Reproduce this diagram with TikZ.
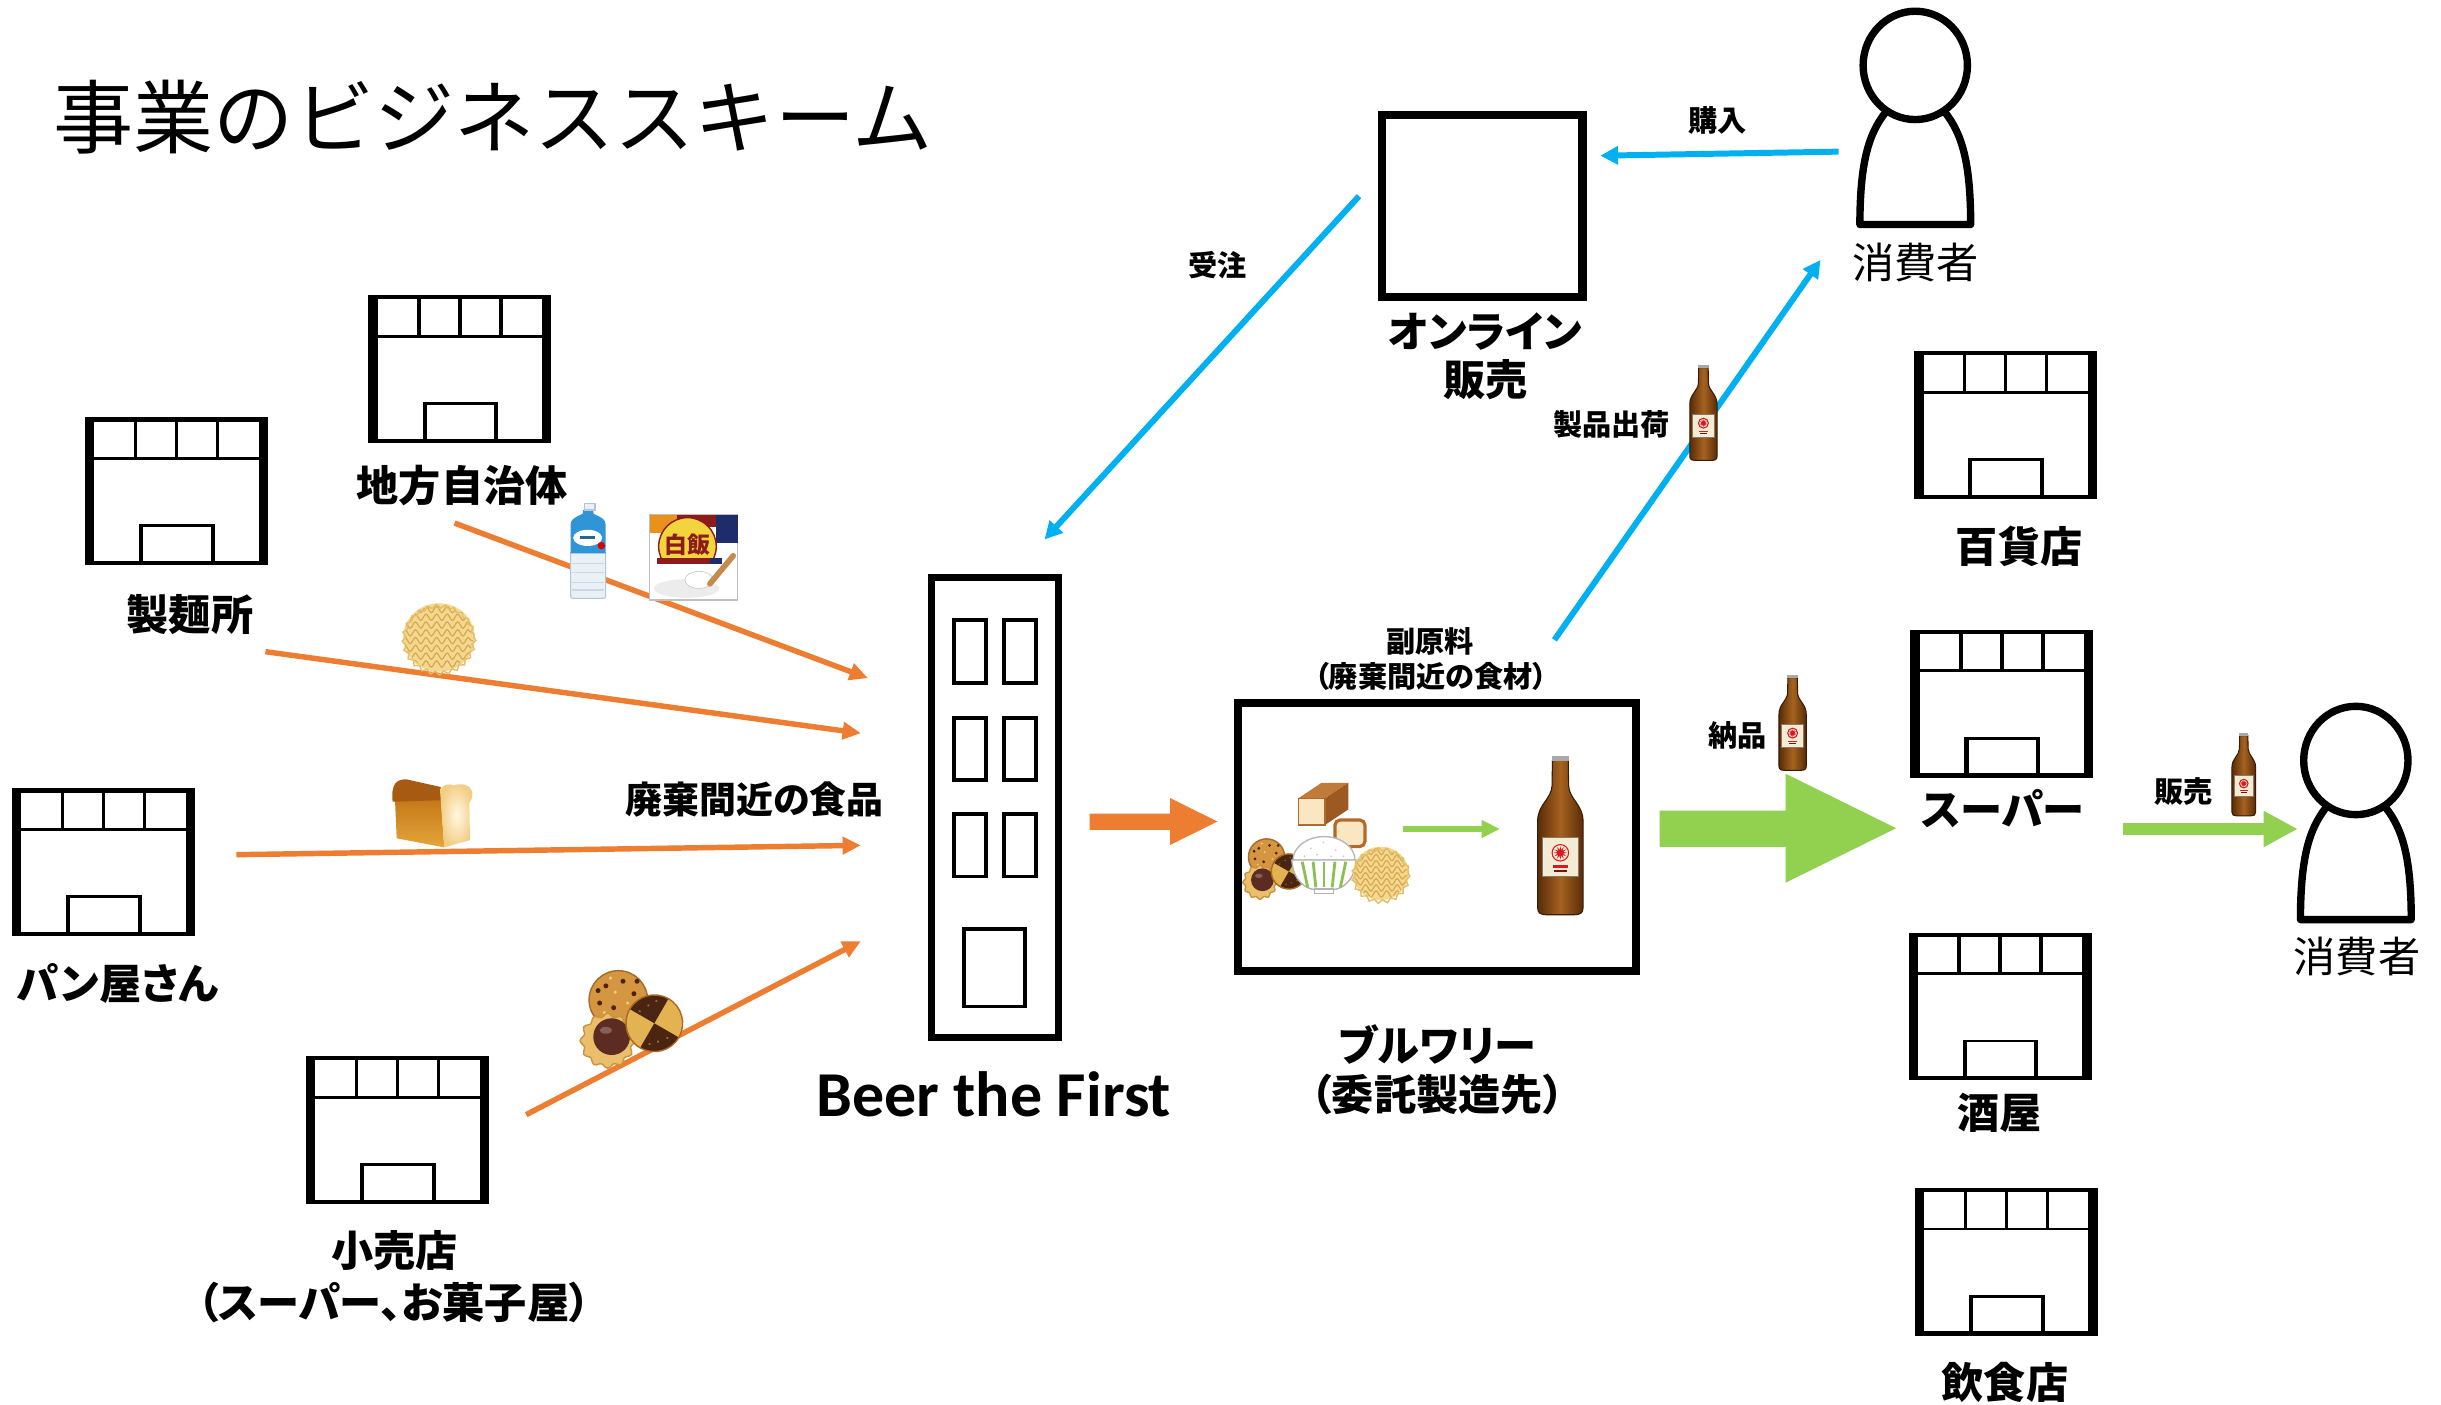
\documentclass[tikz,border=0pt]{standalone}
\usepackage{fontspec}
\newfontfamily\jpfont{Noto Sans CJK JP}[RawFeature=+palt]
\newfontfamily\jptitle{Noto Sans CJK JP}
\newfontfamily\latinbold{Carlito}
\usetikzlibrary{arrows.meta,decorations.pathmorphing}

\definecolor{flowOrange}{HTML}{ED7D31}
\definecolor{flowBlue}{HTML}{00B0F0}
\definecolor{flowGreen}{HTML}{92D050}
\definecolor{bottleDark}{HTML}{5A2C08}
\definecolor{bottleLight}{HTML}{A5621F}
\definecolor{bottleEdge}{HTML}{3A1B04}
\definecolor{capGray}{HTML}{A9A9A9}
\definecolor{labelCream}{HTML}{F3ECD4}
\definecolor{starRed}{HTML}{D71920}
\definecolor{noodleFill}{HTML}{F4D892}
\definecolor{noodleLine}{HTML}{D8A94C}
\definecolor{noodleEdge}{HTML}{E5BD66}
\definecolor{cookieA}{HTML}{D49640}
\definecolor{cookieAEdge}{HTML}{A86A24}
\definecolor{cookieB}{HTML}{EBBE6C}
\definecolor{cookieBEdge}{HTML}{C89440}
\definecolor{cookieC}{HTML}{E3B352}
\definecolor{chocoDark}{HTML}{4A2512}
\definecolor{choco}{HTML}{5C2C22}
\definecolor{chip}{HTML}{4B2410}
\definecolor{crumb}{HTML}{F3CF7E}
\definecolor{loafTop}{HTML}{A65A12}
\definecolor{loafSideA}{HTML}{C27516}
\definecolor{loafSideB}{HTML}{E4A63A}
\definecolor{loafCut}{HTML}{F3CD85}
\definecolor{loafCutHi}{HTML}{FFF8E2}
\definecolor{waterBlue}{HTML}{2F95D6}
\definecolor{waterBody}{HTML}{E9F0F6}
\definecolor{waterEdge}{HTML}{B5C6D6}
\definecolor{packOrange}{HTML}{E8921C}
\definecolor{packRed}{HTML}{8E1B1B}
\definecolor{packNavy}{HTML}{1E2C6B}
\definecolor{packYellow}{HTML}{F2D43C}
\definecolor{spoonBrown}{HTML}{C48B4C}
\definecolor{bowlGreen}{HTML}{8CC152}
\definecolor{crustBrown}{HTML}{B06A2C}
\definecolor{loafBoxTop}{HTML}{C07A3A}
\definecolor{loafBoxSide}{HTML}{9C5A22}
\definecolor{loafBoxFront}{HTML}{FBE6C2}

\tikzset{
  titleF/.style={inner sep=0pt, font=\jptitle\fontsize{22.8}{27}\selectfont},
  lblB/.style={inner sep=0pt, font=\jpfont\bfseries\fontsize{12}{14}\selectfont},
  lblR/.style={inner sep=0pt, font=\jpfont\fontsize{12}{14}\selectfont},
  midB/.style={inner sep=0pt, font=\jpfont\bfseries\fontsize{10.5}{12.5}\selectfont},
  smB/.style={inner sep=0pt, font=\jpfont\bfseries\fontsize{8.3}{10}\selectfont},
  beerlbl/.style={inner sep=0pt, font=\latinbold\bfseries\fontsize{18.2}{22}\selectfont},
  supply/.style={flowOrange, line width=1.55pt, -{Triangle[length=5.2pt,width=4.8pt]}},
  order/.style={flowBlue, line width=1.7pt, -{Triangle[length=5pt,width=5pt]}},
  % shop front: thick side walls, thin roof and floor, four windows and a door
  pics/shop/.style={code={
    \fill[black] (0,0) rectangle (117.5,95);
    \fill[white] (6,2.8) rectangle (111.5,92.2);
    \fill[black] (6,25.5) rectangle (111.5,27.3);
    \foreach \cx in {32.4,58.75,85.1}
      \fill[black] ({\cx-1.1},2.8) rectangle ({\cx+1.1},26);
    \fill[black] (34.7,68.8) rectangle (83.4,93);
    \fill[white] (37.3,70.6) rectangle (80.8,92.2);
  }},
  % person figure, origin at the centre of the head
  pics/person/.style={code={
    \draw[line width=2.1pt, fill=white, line join=round]
      (-19,30) .. controls (-30,44) and (-35.5,62) .. (-35.6,102.2)
      -- (35.6,102.2) .. controls (35.5,62) and (30,44) .. (19,30);
    \draw[line width=2.1pt, fill=white] (0,0) ellipse [x radius=33.5, y radius=34.8];
  }},
  % brown beer bottle, origin at the top centre of the cap
  pics/beerbottle/.style={code={
    \shade[left color=bottleDark, right color=bottleDark, middle color=bottleLight,
           draw=bottleEdge, line width=0.3pt]
      (-5.1,2.8) -- (-5.3,19) .. controls (-5.8,28) and (-14.6,31) .. (-14.6,42)
      -- (-14.6,97.5) .. controls (-14.6,101) and (-12.5,102) .. (-9,102)
      -- (9,102) .. controls (12.5,102) and (14.6,101) .. (14.6,97.5)
      -- (14.6,42) .. controls (14.6,31) and (5.8,28) .. (5.3,19) -- (5.1,2.8) -- cycle;
    \fill[capGray] (-5.6,0) rectangle (5.6,3.2);
    \fill[labelCream, draw=bottleEdge!60, line width=0.25pt] (-11.8,52.5) rectangle (11.5,77.5);
    \draw[starRed, line width=0.3pt] (0,62.2) circle [radius=5.3];
    \begin{scope}[shift={(0,62.2)}]
      \fill[starRed] (0:4.4) \foreach \a in {15,45,...,345} { -- (\a:1.9) -- (\a+15:4.4) } -- cycle;
    \end{scope}
    \fill[starRed] (-5,70.3) rectangle (5,71.8);
    \fill[starRed!60!black] (-4,73) rectangle (4,74.3);
  }},
  % round block of dried noodles
  pics/noodle/.style={code={
    \fill[noodleFill] (0,0) ellipse [x radius=23, y radius=22];
    \begin{scope}
      \clip (0,0) ellipse [x radius=22, y radius=21];
      \foreach \yy in {-18,-13,...,18}
        \draw[noodleLine, line width=0.35pt, decorate,
              decoration={snake, amplitude=0.9pt, segment length=3pt}] (-24,\yy) -- (24,\yy);
    \end{scope}
    \draw[noodleEdge, line width=0.4pt, decorate,
          decoration={snake, amplitude=0.5pt, segment length=2.5pt}]
      (0,0) ellipse [x radius=22.5, y radius=21.5];
  }},
  % three cookies, origin at the centre of the chocolate chip cookie
  pics/cookies/.style={code={
    \fill[cookieA, draw=cookieAEdge, line width=0.4pt] (0,0) circle [radius=18.8];
    \foreach \px/\py in {-8/-9,3/-12,10/-4,-12/2,-3/5,8/8,-6/13,12/-12,-13/-6}
      \fill[chip] (\px,\py) circle [radius=1.6];
    \foreach \px/\py in {-2/-5,6/2,-9/8,2/12,-5/-14}
      \fill[crumb] (\px,\py) circle [radius=1.1];
    \draw[cookieBEdge, fill=cookieB, line width=0.4pt]
      plot[variable=\t, domain=0:355, samples=72, smooth cycle]
      ({-6.9+(16.5+1.2*cos(12*\t))*cos(\t)}, {26.2+(16.5+1.2*cos(12*\t))*sin(\t)});
    \fill[choco] (-4.3,23.6) circle [radius=11.8];
    \fill[white, opacity=0.25] (-8,19.5) ellipse [x radius=4, y radius=2.2];
    \begin{scope}[shift={(23.1,15)}, rotate=-30]
      \fill[cookieC] (0,0) circle [radius=18.2];
      \fill[chocoDark] (0,0) -- (18.2,0) arc [start angle=0, end angle=90, radius=18.2] -- cycle;
      \fill[chocoDark] (0,0) -- (-18.2,0) arc [start angle=180, end angle=270, radius=18.2] -- cycle;
      \draw[cookieAEdge, line width=0.4pt] (0,0) circle [radius=18.2];
      \foreach \px/\py in {-9/-8,-12/-2,-6/-13,8/9,12/4,4/13}
        \fill[cookieAEdge] (\px,\py) circle [radius=0.8];
    \end{scope}
  }}
}

\begin{document}
\begin{tikzpicture}[x=0.015568cm, y=-0.015568cm]
\useasboundingbox (0,0) rectangle (1568,902.5);
\fill[white] (0,0) rectangle (1568,902.5);

% ---------- title ----------
\node[titleF, anchor=west] (title) at (34,75) {事業のビジネススキーム};

% ---------- suppliers of surplus food ----------
\pic at (236.7,189.5) {shop};
\pic at (54.6,268) {shop};
\pic at (7.8,506.4) {shop};
\pic at (196.6,678.4) {shop};
\node[lblB] (l-jichi) at (296.9,312) {地方自治体};
\node[lblB] (l-seimen) at (122,394.5) {製麺所};
\node[lblB] (l-pan) at (75.3,631.5) {パン屋さん};
\node[lblB] (l-kouri) at (253.4,803.6) {小売店};
\node[lblB] (l-kouri2) at (253,836.8) {（スーパー、お菓子屋）};
\node[midB] (l-haiki) at (484.7,513.3) {廃棄間近の食品};

\coordinate (o1s) at (292,336);     \coordinate (o1e) at (557.5,435.6);
\coordinate (o2s) at (170.5,418.6); \coordinate (o2e) at (553,471);
\coordinate (o3s) at (151.8,549);   \coordinate (o3e) at (553,543);
\coordinate (o4s) at (338,716);     \coordinate (o4e) at (553,604.5);
\draw[supply] (o1s) -- (o1e);
\draw[supply] (o2s) -- (o2e);
\draw[supply] (o3s) -- (o3e);
\draw[supply] (o4s) -- (o4e);

% water bottle
\fill[waterBody, draw=waterEdge, line width=0.3pt]
  (366.6,355) -- (366.6,381.5) .. controls (366.6,384.3) .. (369,384.3) -- (386.6,384.3)
  .. controls (389,384.3) .. (389,381.5) -- (389,355) -- cycle;
\foreach \ry in {362,368,374,379} \draw[waterEdge!70, line width=0.3pt] (367.5,\ry) -- (388,\ry);
\fill[waterBlue] (374.6,327.6) -- (374.3,330) .. controls (368,333) and (366.6,334) .. (366.6,337)
  -- (366.6,355.4) -- (389,355.4) -- (389,337) .. controls (389,334) and (387.6,333) .. (381.3,330)
  -- (381,327.6) -- cycle;
\fill[white] (377.5,345.5) ellipse [x radius=9.3, y radius=5.2];
\fill[waterBlue!70!black] (372.5,344.6) rectangle (382.5,346.4);
\fill[red!85!black] (386.3,350.5) circle [radius=2.4];
\fill[waterBody, draw=waterEdge, line width=0.3pt] (375.7,323.3) rectangle (382.2,327.6);

% packed rice
\fill[white, draw=gray!50, line width=0.3pt] (417.5,330.8) rectangle (474,385.4);
\fill[packOrange] (417.5,330.8) rectangle (434.6,342.6);
\fill[packRed] (434.6,330.8) rectangle (459.7,338.3);
\fill[packNavy] (459.7,330.8) rectangle (474,349);
\begin{scope}
  \clip (417.5,330.8) rectangle (474,358.6);
  \fill[packYellow, draw=packRed, line width=0.4pt] (441.6,351) circle [radius=18.5];
\end{scope}
\node[inner sep=0pt, text=packRed, font=\jpfont\bfseries\fontsize{6.5}{7}\selectfont] (pack-txt) at (441.6,350) {白飯};
\fill[packRed] (422,358.6) rectangle (464,362.3);
\fill[packNavy] (456,358.6) rectangle (464,362.3);
\fill[gray!15] (441,378) ellipse [x radius=21, y radius=6];
\fill[white, draw=gray!40, line width=0.2pt] (449,372.5) ellipse [x radius=9, y radius=5.5];
\draw[spoonBrown, line width=1.6pt, line cap=round] (456,375) -- (471,357);

% noodles
\pic at (282,409.5) {noodle};

% loaf of bread
\shade[top color=loafSideA, bottom color=loafSideB]
  (253.7,513) -- (254.8,538.5) -- (285.4,544.3) -- (283,511) -- cycle;
\fill[loafTop] (252.2,515) .. controls (251,503) and (255,500.6) .. (261,500.6)
  -- (283,505.5) .. controls (284.5,510) .. (283.5,514) -- cycle;
\shade[inner color=loafCutHi, outer color=loafCut]
  (282.6,507) .. controls (285,503.5) and (289,503.3) .. (291.5,504.5)
  .. controls (295,503.2) and (302,503) .. (303.4,509) .. controls (304,512) and (302.5,514) .. (301.5,516)
  -- (301.9,539.6) -- (285.4,544.3) -- cycle;

% cookies
\pic at (397.2,642.3) {cookies};

% ---------- Beer the First ----------
\draw[line width=2pt] (598.3,370.8) rectangle (679.7,666.4);
\foreach \wy in {398.5,461,523} {
  \draw[line width=1.1pt] (613,\wy) rectangle (633.3,\wy+40);
  \draw[line width=1.1pt] (645,\wy) rectangle (665.3,\wy+40);
}
\draw[line width=1.1pt] (619.5,596.5) rectangle (658.5,646.5);
\node[beerlbl, anchor=base] (l-beer) at (638.3,717.5) {Beer the First};

% block arrow to the brewery
\fill[flowOrange] (700,522.6) -- (751.6,522.6) -- (751.6,512.6) -- (782,527.7)
  -- (751.6,542.8) -- (751.6,533) -- (700,533) -- cycle;

% ---------- brewery ----------
\draw[line width=2.3pt] (795.5,451.5) rectangle (1051,623.5);
\node[smB] (l-fuku) at (918.7,411.7) {副原料};
\node[smB] (l-fuku2) at (919.1,434.8) {（廃棄間近の食材）};
\node[lblB] (l-brew) at (923.3,670.8) {ブルワリー};
\node[lblB] (l-brew2) at (923.3,703.3) {（委託製造先）};

% ingredients inside the brewery
\fill[loafBoxTop] (834,512.8) -- (851.1,512.8) -- (866.1,502.8) -- (849,502.8) -- cycle;
\fill[loafBoxSide] (851.1,512.8) -- (866.1,502.8) -- (866.1,519.9) -- (851.1,529.9) -- cycle;
\fill[loafBoxFront, draw=crustBrown, line width=0.4pt] (834,512.8) rectangle (851.1,529.9);
\fill[loafBoxFront, draw=crustBrown, line width=0.9pt, rounded corners=1.5pt]
  (857.5,526.7) rectangle (876.8,543.8);
\pic[scale=0.62] at (813.6,550.5) {cookies};
\fill[white, draw=gray!55, line width=0.4pt]
  (830.6,552.4) arc [start angle=180, end angle=360, x radius=19.9, y radius=15] -- cycle;
\foreach \gx/\gy in {842/545,850/541,858/546,846/549,855/550,838/550,863/550}
  \fill[gray!45] (\gx,\gy) circle [radius=0.6];
\fill[white, draw=gray!60, line width=0.4pt]
  (829.8,552.4) .. controls (830.5,565) and (838,571) .. (845,571.5) -- (856,571.5)
  .. controls (863,571) and (870.5,565) .. (871.2,552.4) -- cycle;
\foreach \sx in {-14,-7,0,7,14}
  \draw[bowlGreen, line width=0.8pt] ({850.5+\sx},553.5) -- ({850.5+\sx*0.75},570);
\fill[white, draw=gray!60, line width=0.4pt] (844.5,571) rectangle (856.5,574);
\pic[scale=0.78] at (887,561) {noodle};

\coordinate (g1s) at (901,532.5); \coordinate (g1e) at (963.5,532.5);
\draw[flowGreen, line width=1.7pt, -{Triangle[length=5.2pt,width=4.8pt]}] (g1s) -- (g1e);
\pic at (1002.3,485.6) {beerbottle};

% ---------- online sales ----------
\draw[line width=2.3pt] (888,74) rectangle (1016.5,191);
\node[lblB] (l-online) at (953.9,213) {オンライン};
\node[lblB] (l-online2) at (954.4,244) {販売};

\pic at (1230.3,42) {person};
\node[lblR] (l-cons1) at (1230.6,168.6) {消費者};

\coordinate (b1s) at (1181,97.4);  \coordinate (b1e) at (1028,100);
\coordinate (b2s) at (873,126);    \coordinate (b2e) at (671,346.5);
\coordinate (b3s) at (998.5,411);  \coordinate (b3e) at (1169.4,167);
\draw[order] (b1s) -- (b1e);
\draw[order] (b2s) -- (b2e);
\draw[order] (b3s) -- (b3e);
\node[smB] (l-kounyu) at (1103.4,77.6) {購入};
\node[smB] (l-juchu) at (782,170.3) {受注};
\node[smB] (l-shukka) at (1035.2,272.5) {製品出荷};
\pic[scale=0.6] at (1094.2,234.5) {beerbottle};

% ---------- retail ----------
\fill[flowGreen] (1066,520.7) -- (1147,520.7) -- (1147,497) -- (1218,532)
  -- (1147,567) -- (1147,544) -- (1066,544) -- cycle;
\node[smB] (l-nouhin) at (1116,472.5) {納品};
\pic[scale=0.6] at (1151.5,433.6) {beerbottle};

\pic at (1229.6,225.5) {shop};
\pic at (1227.2,404.5) {shop};
\pic at (1226,599) {shop};
\pic at (1230,763) {shop};
\node[lblB] (l-dept) at (1297,351) {百貨店};
\node[lblB] (l-super) at (1286.6,519.3) {スーパー};
\node[lblB] (l-sake) at (1284.7,715) {酒屋};
\node[lblB] (l-rest) at (1287.9,888) {飲食店};

\coordinate (g2s) at (1364,532.5); \coordinate (g2e) at (1476,532.5);
\draw[flowGreen, line width=3.3pt, -{Triangle[length=9.7pt,width=9.6pt]}] (g2s) -- (g2e);
\node[smB] (l-hanbai) at (1402.5,508.7) {販売};
\pic[scale=0.52] at (1441.3,471) {beerbottle};

\pic at (1513.3,488.5) {person};
\node[lblR] (l-cons2) at (1514,614.2) {消費者};
\end{tikzpicture}
\end{document}
